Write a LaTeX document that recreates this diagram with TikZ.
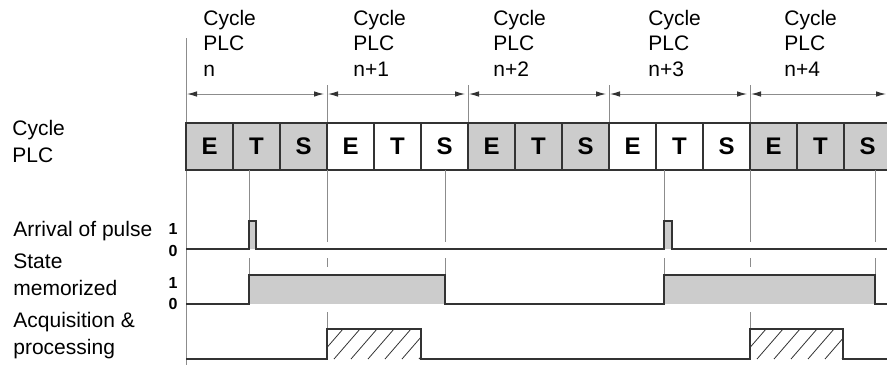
\documentclass[tikz,border=0pt]{standalone}
\usepackage{fontspec}
\setmainfont{Liberation Sans}
\usepackage{xcolor}
\usetikzlibrary{positioning, arrows.meta}

\definecolor{gridgray}{HTML}{8C8C8C}
\definecolor{sigdark}{HTML}{333333}
\definecolor{fillgray}{HTML}{CCCCCC}

\begin{document}
\begin{tikzpicture}[
  x=0.5pt, y=-0.5pt,
  cyclebox/.style={draw=sigdark, line width=0.9pt, minimum width=23.5pt, minimum height=23.5pt, inner sep=0pt, font=\fontsize{12}{12}\selectfont\bfseries},
  greycycle/.style={cyclebox, fill=fillgray},
  whitecycle/.style={cyclebox, fill=white},
  toplabel/.style={anchor=base west, align=left, inner sep=0pt, font=\fontsize{10.5}{12.75}\selectfont},
  sidelabel/.style={anchor=base west, align=left, inner sep=0pt, font=\fontsize{10.5}{13.5}\selectfont},
  levellabel/.style={inner sep=0pt, font=\fontsize{8}{8}\selectfont\bfseries},
  gridline/.style={draw=gridgray, line width=0.5pt},
  signal/.style={draw=sigdark, line width=1pt, line join=miter},
  hatch/.style={draw=sigdark, line width=0.4pt},
  spanarrow/.style={{Latex[length=5pt,width=2.8pt,color=sigdark]}-{Latex[length=5pt,width=2.8pt,color=sigdark]}, draw=gridgray, line width=0.5pt}
]
  \useasboundingbox (0,0) rectangle (887,365);

  % cycle boundaries
  \coordinate (b0) at (186,94);
  \coordinate (b1) at (327,94);
  \coordinate (b2) at (468,94);
  \coordinate (b3) at (609,94);
  \coordinate (b4) at (750,94);
  \coordinate (bend) at (886,94);

  \draw[gridline] (186,38) -- (186,365);
  \foreach \b in {327,468,609,750}
    \draw[gridline] (\b,85) -- (\b,123);

  % cycle spans
  \draw[spanarrow, shorten <=0.5pt, shorten >=1.5pt] (b0) -- (b1);
  \draw[spanarrow, shorten <=0.5pt, shorten >=1.5pt] (b1) -- (b2);
  \draw[spanarrow, shorten <=0.5pt, shorten >=1.5pt] (b2) -- (b3);
  \draw[spanarrow, shorten <=0.5pt, shorten >=1.5pt] (b3) -- (b4);
  \draw[spanarrow, shorten <=0.5pt] (b4) -- (bend);

  % anchored at the baseline of the last line
  \node[toplabel] (cyc0) at (203,76) {Cycle\\PLC\\n};
  \node[toplabel] (cyc1) at (353,76) {Cycle\\PLC\\n+1};
  \node[toplabel] (cyc2) at (493,76) {Cycle\\PLC\\n+2};
  \node[toplabel] (cyc3) at (648,76) {Cycle\\PLC\\n+3};
  \node[toplabel] (cyc4) at (784,76) {Cycle\\PLC\\n+4};

  % E T S boxes
  \foreach \c/\l/\s in {0/E/greycycle, 1/T/greycycle, 2/S/greycycle,
                        3/E/whitecycle, 4/T/whitecycle, 5/S/whitecycle,
                        6/E/greycycle, 7/T/greycycle, 8/S/greycycle,
                        9/E/whitecycle, 10/T/whitecycle, 11/S/whitecycle,
                        12/E/greycycle, 13/T/greycycle, 14/S/greycycle}
    \node[\s] (cell\c) at (209.5+47*\c,146.5) {\l};

  % event lines under the boxes
  \foreach \e/\m in {249/275, 327/267, 445/275, 664/275, 750/267, 875/275} {
    \draw[gridline] (\e,170) -- (\e,242);
    \draw[gridline] (\e,258) -- (\e,\m);
  }
  \draw[gridline] (327,312) -- (327,329);
  \draw[gridline] (750,312) -- (750,329);

  % labels
  \node[sidelabel] (lcycle) at (12,162) {Cycle\\PLC};
  \node[sidelabel] (lpulse) at (13,236) {Arrival of pulse};
  \node[sidelabel] (lstate) at (13,295) {State\\memorized};
  \node[sidelabel] (lacq) at (13,354) {Acquisition \&\\processing};

  \node[levellabel] (p1) at (173,229) {1};
  \node[levellabel] (p0) at (173,251) {0};
  \node[levellabel] (s1) at (173,283) {1};
  \node[levellabel] (s0) at (173,304) {0};

  % arrival of pulse
  \fill[fillgray] (249,221) rectangle (256,249);
  \fill[fillgray] (664,221) rectangle (672,249);
  \draw[signal] (186,249) -- (249,249) -- (249,221) -- (256,221) -- (256,249)
    -- (664,249) -- (664,221) -- (672,221) -- (672,249) -- (890,249);

  % state memorized
  \fill[fillgray] (249,275) rectangle (445,304);
  \fill[fillgray] (664,275) rectangle (875,304);
  \draw[signal] (186,304) -- (249,304) -- (249,275) -- (445,275) -- (445,304)
    -- (664,304) -- (664,275) -- (875,275) -- (875,304) -- (890,304);

  % acquisition & processing
  \begin{scope}
    \clip (327,329) rectangle (421,359);
    \foreach \h in {300,317,...,440}
      \draw[hatch] (\h,359) -- ++(26,-30);
  \end{scope}
  \begin{scope}
    \clip (750,329) rectangle (843,359);
    \foreach \h in {723,740,...,860}
      \draw[hatch] (\h,359) -- ++(26,-30);
  \end{scope}
  \draw[signal] (186,359) -- (327,359) -- (327,329) -- (421,329) -- (421,359)
    -- (750,359) -- (750,329) -- (843,329) -- (843,359) -- (890,359);
\end{tikzpicture}
\end{document}
